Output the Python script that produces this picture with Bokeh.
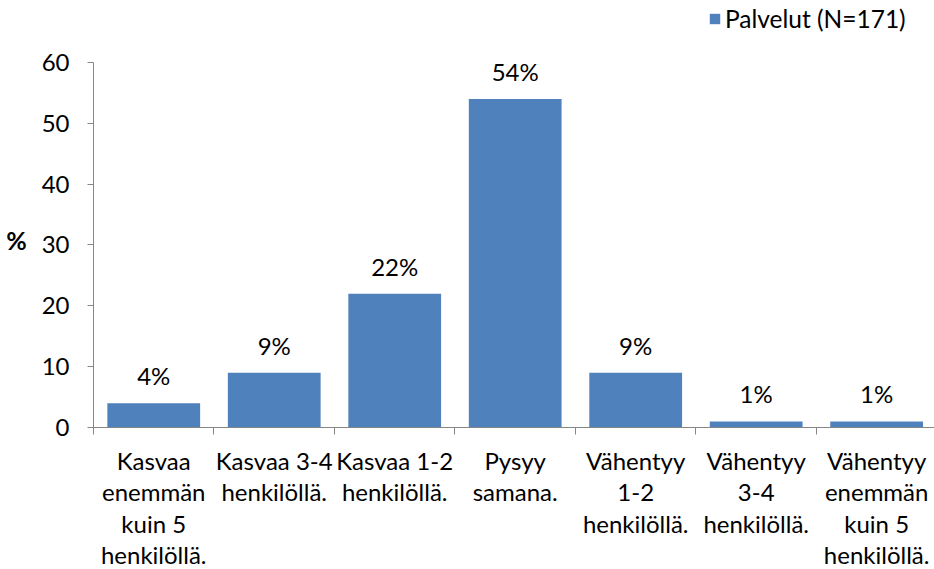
from bokeh.plotting import figure
from bokeh.models import Range1d, FixedTicker, ColumnDataSource, Legend, LegendItem
from bokeh.core.properties import value
from bokeh.embed import file_html
from bokeh.resources import INLINE

categories = [
    "Kasvaa\nenemmän\nkuin 5\nhenkilöllä.",
    "Kasvaa 3-4\nhenkilöllä.",
    "Kasvaa 1-2\nhenkilöllä.",
    "Pysyy\nsamana.",
    "Vähentyy\n1-2\nhenkilöllä.",
    "Vähentyy\n3-4\nhenkilöllä.",
    "Vähentyy\nenemmän\nkuin 5\nhenkilöllä.",
]
values = [4, 9, 22, 54, 9, 1, 1]
bar_labels = ["4%", "9%", "22%", "54%", "9%", "1%", "1%"]
series_name = "Palvelut (N=171)"
y_ticks = [0, 10, 20, 30, 40, 50, 60]

FONT = "Lato"
FS = "24px"
AXIS_COLOR = "#868686"
BAR_COLOR = "#4F81BD"

xs = [i + 0.5 for i in range(len(categories))]
src = ColumnDataSource(dict(x=xs, top=values, lab=bar_labels))

p = figure(frame_width=841, frame_height=427, output_backend="svg", toolbar_location=None,
           x_range=Range1d(0, 6.98), y_range=Range1d(0, 70.19),
           min_border_left=93, min_border_right=0, min_border_top=0, min_border_bottom=0)
p.outline_line_color = None
p.xgrid.visible = False
p.ygrid.visible = False

r = p.vbar(x="x", top="top", width=0.77, source=src, fill_color=BAR_COLOR, line_color=None)
p.text(x="x", y="top", text="lab", source=src, text_align="center", text_baseline="bottom",
       y_offset=-13, text_font=value(FONT), text_font_size=FS, text_color="black")

# x axis
p.xaxis.ticker = FixedTicker(ticks=xs, minor_ticks=list(range(len(categories) + 1)))
p.xaxis.major_label_overrides = {x: c for x, c in zip(xs, categories)}
p.xaxis.major_tick_line_color = None
p.xaxis.minor_tick_in = 0
p.xaxis.minor_tick_out = 7
p.xaxis.minor_tick_line_color = AXIS_COLOR
p.xaxis.axis_line_color = AXIS_COLOR
p.xaxis.major_label_text_font = FONT
p.xaxis.major_label_text_font_size = FS
p.xaxis.major_label_text_color = "black"
p.xaxis.major_label_standoff = 11
p.xaxis.major_label_text_line_height = 1.09

# y axis
p.yaxis.ticker = FixedTicker(ticks=y_ticks)
p.yaxis.bounds = (0, 60)
p.yaxis.minor_tick_line_color = None
p.yaxis.major_tick_in = 0
p.yaxis.major_tick_out = 6
p.yaxis.major_tick_line_color = AXIS_COLOR
p.yaxis.axis_line_color = AXIS_COLOR
p.yaxis.major_label_text_font = FONT
p.yaxis.major_label_text_font_size = FS
p.yaxis.major_label_text_color = "black"
p.yaxis.major_label_standoff = 18
p.yaxis.axis_label = " \n \n%"
p.yaxis.axis_label_orientation = "horizontal"
p.yaxis.axis_label_text_font = FONT
p.yaxis.axis_label_text_font_size = "25px"
p.yaxis.axis_label_text_font_style = "bold"
p.yaxis.axis_label_text_color = "black"
p.yaxis.axis_label_text_line_height = 0.85
p.yaxis.axis_label_standoff = 12

legend = Legend(items=[LegendItem(label=series_name, renderers=[r])],
                location=(615, 394), orientation="horizontal",
                background_fill_alpha=0, border_line_color=None,
                padding=0, margin=0, glyph_width=13, glyph_height=13, label_standoff=4,
                label_text_font=FONT, label_text_font_size="24.5px", label_text_color="black")
p.add_layout(legend, "center")

open("out.html", "w").write(file_html(p, INLINE))
